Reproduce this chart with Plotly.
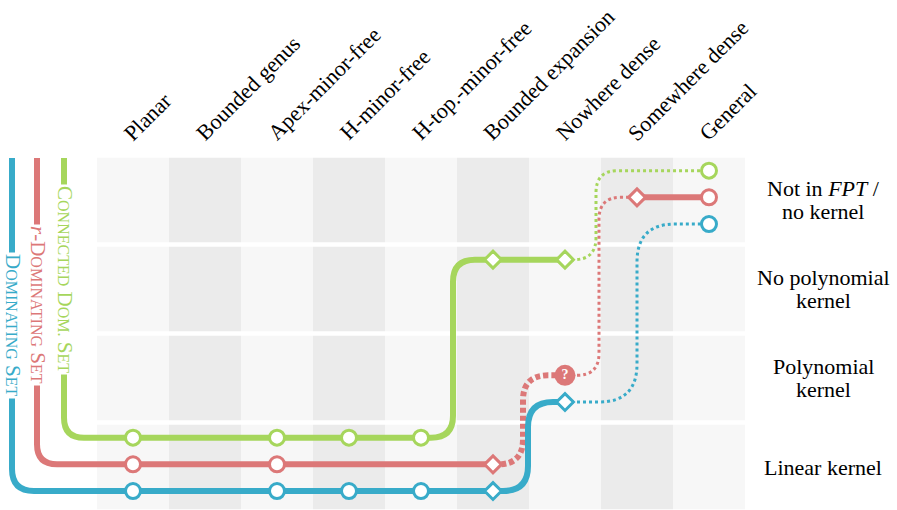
import plotly.graph_objects as go

# ---------------- data ----------------
categories = ["Planar", "Bounded genus", "Apex-minor-free", "H-minor-free",
              "H-top.-minor-free", "Bounded expansion", "Nowhere dense",
              "Somewhere dense", "General"]
levels = ["Linear kernel", "Polynomial<br>kernel", "No polynomial<br>kernel",
          "Not in <i>FPT</i> /<br>no kernel"]

# Dominating Set
ds_cols = [0, 2, 3, 4, 5, 6, 8]
ds_levels = [0, 0, 0, 0, 0, 1, 3]
ds_status = ["tight", "tight", "tight", "tight", "bound", "bound", "tight"]
ds_links = ["known", "known", "known", "known", "known", "implied"]

# r-Dominating Set
rds_cols = [0, 2, 5, 6, 7, 8]
rds_levels = [0, 0, 0, 1, 3, 3]
rds_status = ["tight", "tight", "bound", "open", "bound", "tight"]
rds_links = ["known", "known", "conjectured", "implied", "known"]

# Connected Dominating Set
cds_cols = [0, 2, 3, 4, 5, 6, 8]
cds_levels = [0, 0, 0, 0, 2, 2, 3]
cds_status = ["tight", "tight", "tight", "tight", "bound", "bound", "tight"]
cds_links = ["known", "known", "known", "known", "known", "implied"]

SC = "font-size:16px"
problem_labels = {
    "ds": f"D<span style='{SC}'>OMINATING</span> S<span style='{SC}'>ET</span>",
    "rds": f"<i>r</i>-D<span style='{SC}'>OMINATING</span> S<span style='{SC}'>ET</span>",
    "cds": f"C<span style='{SC}'>ONNECTED</span> D<span style='{SC}'>OM.</span> S<span style='{SC}'>ET</span>",
}

# ---------------- geometry / style ----------------
# coordinates below are in screen pixels of the 897x510 window
W, H = 897, 510
X0_PX, COL_PX = 133, 72
Y0_PX, ROW_PX = 467, 89


def dx(px):
    return (px - X0_PX) / COL_PX


def dy(py):
    return (Y0_PX - py) / ROW_PX


FONT = "Liberation Serif, Times New Roman, serif"
LIGHT, DARK = "#f7f7f7", "#ebebeb"

series = {
    "ds": dict(cols=ds_cols, lv=ds_levels, st=ds_status, links=ds_links,
               color="#38abc9", lane=-0.27, rail_px=12, rail_r=22, label_px=13, label_py=325,
               turns=[(528, 25), (637, 38)]),
    "rds": dict(cols=rds_cols, lv=rds_levels, st=rds_status, links=rds_links,
                color="#dc7878", lane=0.03, rail_px=37, rail_r=20, label_px=38, label_py=305,
                turns=[(523, 25), (599, 22)]),
    "cds": dict(cols=cds_cols, lv=cds_levels, st=cds_status, links=cds_links,
                color="#a6d65c", lane=0.33, rail_px=64, rail_r=20, label_px=65, label_py=279,
                turns=[(453, 22), (596, 22)]),
}
link_style = {"known": (6, "solid"), "conjectured": (6, "5px,3px"), "implied": (3, "dot")}

shapes = []
# background cells
gap = 2.2 / ROW_PX
for r in range(len(levels)):
    for c in range(len(categories)):
        shapes.append(dict(type="rect", xref="x", yref="y", layer="below",
                           x0=c - 0.5, x1=c + 0.5, y0=r - 0.5 + gap, y1=r + 0.5 - gap,
                           fillcolor=LIGHT if c % 2 == 0 else DARK, line=dict(width=0)))


def step_path(x0, y0, x1, y1, xm, r_px):
    rx, ry = r_px / COL_PX, r_px / ROW_PX
    s = 1 if y1 > y0 else -1
    return (f"M {x0},{y0} L {xm - rx},{y0} Q {xm},{y0} {xm},{y0 + s * ry} "
            f"L {xm},{y1 - s * ry} Q {xm},{y1} {xm + rx},{y1} L {x1},{y1}")


traces = []
annotations = []
for key in ["cds", "rds", "ds"]:
    s = series[key]
    ys = [lv + s["lane"] for lv in s["lv"]]
    # rail from the left
    xl = dx(s["rail_px"])
    ytop = dy(158)
    rx, ry = s["rail_r"] / COL_PX, s["rail_r"] / ROW_PX
    path = (f"M {xl},{ytop} L {xl},{ys[0] + ry} Q {xl},{ys[0]} {xl + rx},{ys[0]} "
            f"L {s['cols'][0]},{ys[0]}")
    shapes.append(dict(type="path", xref="x", yref="y", layer="below", path=path,
                       line=dict(color=s["color"], width=6)))
    ti = 0
    for i, lk in enumerate(s["links"]):
        x0, x1, y0, y1 = s["cols"][i], s["cols"][i + 1], ys[i], ys[i + 1]
        if s["lv"][i] == s["lv"][i + 1]:
            path = f"M {x0},{y0} L {x1},{y1}"
        else:
            tp, tr = s["turns"][ti]
            ti += 1
            path = step_path(x0, y0, x1, y1, dx(tp), tr)
        w, dash = link_style[lk]
        shapes.append(dict(type="path", xref="x", yref="y", layer="below", path=path,
                           line=dict(color=s["color"], width=w, dash=dash)))
    # markers
    mx = [c for c, st in zip(s["cols"], s["st"]) if st != "open"]
    my = [y for y, st in zip(ys, s["st"]) if st != "open"]
    sym = ["circle" if st == "tight" else "diamond" for st in s["st"] if st != "open"]
    size = [15 if st == "tight" else 13 for st in s["st"] if st != "open"]
    traces.append(go.Scatter(x=mx, y=my, mode="markers", hoverinfo="skip",
                             marker=dict(symbol=sym, size=size, color="white", opacity=1,
                                         line=dict(color=s["color"], width=3))))
    ox = [c for c, st in zip(s["cols"], s["st"]) if st == "open"]
    oy = [y for y, st in zip(ys, s["st"]) if st == "open"]
    if ox:
        traces.append(go.Scatter(x=ox, y=oy, mode="markers+text", text=["?"] * len(ox),
                                 textposition="middle center", hoverinfo="skip",
                                 textfont=dict(family=FONT, size=14, color="white", weight="bold"),
                                 marker=dict(symbol="circle", size=21, color=s["color"],
                                             opacity=1, line=dict(width=0))))
    annotations.append(dict(x=dx(s["label_px"]), y=dy(s["label_py"]), xref="x", yref="y",
                            text=problem_labels[key], textangle=90, showarrow=False,
                            bgcolor="white", borderpad=1,
                            font=dict(family=FONT, size=21, color=s["color"])))

# column labels
for c, name in enumerate(categories):
    annotations.append(dict(x=c + dx(X0_PX - 17), y=dy(148), xref="x", yref="y",
                            text=name, textangle=-45, showarrow=False,
                            xanchor="left", yanchor="bottom",
                            font=dict(family=FONT, size=22, color="black")))

# row labels
for r, name in enumerate(levels):
    lines = name.split("<br>")
    n = len(lines)
    for k, ln in enumerate(lines):
        off = (k - (n - 1) / 2) * 23
        annotations.append(dict(x=dx(823), y=r - off / ROW_PX, xref="x", yref="y",
                                text=ln, showarrow=False, xanchor="center", yanchor="middle",
                                font=dict(family=FONT, size=22, color="black")))

fig = go.Figure(traces)
fig.update_layout(
    width=W, height=H, margin=dict(l=0, r=0, t=0, b=0),
    paper_bgcolor="white", plot_bgcolor="white", showlegend=False,
    xaxis=dict(range=[dx(0), dx(W)], visible=False, fixedrange=True),
    yaxis=dict(range=[dy(H), dy(0)], visible=False, fixedrange=True),
    shapes=shapes, annotations=annotations,
)
fig.write_html("out.html", config={"displayModeBar": False},
               post_script="document.body.style.margin='0px';")
